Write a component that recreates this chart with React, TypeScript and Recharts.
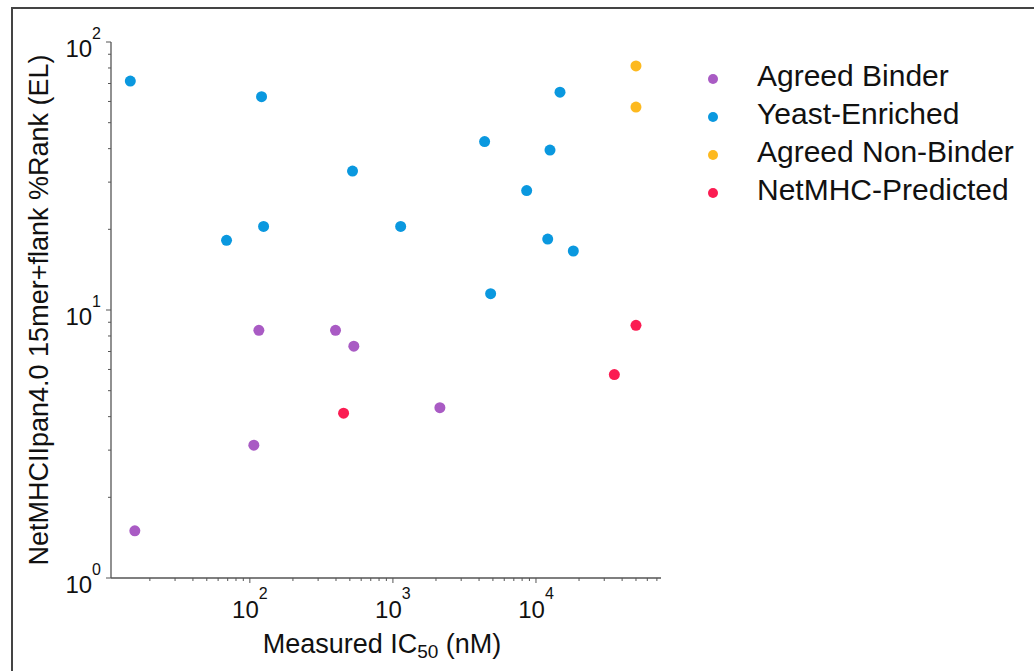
import { ScatterChart, Scatter, XAxis, YAxis } from "recharts";

// values (IC50 in nM, %Rank)
const agreedBinder = [
  { ic50: 115.6, rank: 8.4 },
  { ic50: 397, rank: 8.4 },
  { ic50: 533, rank: 7.33 },
  { ic50: 106.6, rank: 3.13 },
  { ic50: 15.7, rank: 1.5 },
  { ic50: 2130, rank: 4.32 },
];
const yeastEnriched = [
  { ic50: 14.6, rank: 71.5 },
  { ic50: 120.7, rank: 62.5 },
  { ic50: 522, rank: 33.0 },
  { ic50: 68.7, rank: 18.2 },
  { ic50: 124.7, rank: 20.5 },
  { ic50: 1133, rank: 20.5 },
  { ic50: 14720, rank: 65.0 },
  { ic50: 4375, rank: 42.5 },
  { ic50: 12530, rank: 39.5 },
  { ic50: 8610, rank: 27.9 },
  { ic50: 12080, rank: 18.4 },
  { ic50: 18240, rank: 16.6 },
  { ic50: 4820, rank: 11.5 },
];
const agreedNonBinder = [
  { ic50: 50000, rank: 81.4 },
  { ic50: 50000, rank: 57.2 },
];
const netmhcPredicted = [
  { ic50: 452, rank: 4.12 },
  { ic50: 35300, rank: 5.74 },
  { ic50: 50000, rank: 8.77 },
];

const SERIES = [
  { name: "Agreed Binder", color: "#a95bc4", data: agreedBinder },
  { name: "Yeast-Enriched", color: "#0a98df", data: yeastEnriched },
  { name: "Agreed Non-Binder", color: "#fdb91f", data: agreedNonBinder },
  { name: "NetMHC-Predicted", color: "#fb1c52", data: netmhcPredicted },
];

const X_DOMAIN = [10.7, 74800];
const Y_DOMAIN = [1, 100];
const X_MAJOR = [100, 1000, 10000];
const Y_MAJOR = [1, 10, 100];
const MINOR_STEPS = [2, 3, 4, 5, 6, 7, 8, 9];
const X_DECADES = [10, 100, 1000, 10000];
const Y_DECADES = [1, 10];

const withMinors = (decades: number[], majors: number[], dom: number[]) => {
  const out = [...majors];
  decades.forEach((d) => MINOR_STEPS.forEach((m) => out.push(d * m)));
  return out.filter((v) => v >= dom[0] && v <= dom[1]).sort((a, b) => a - b);
};
const X_TICKS = withMinors(X_DECADES, X_MAJOR, X_DOMAIN);
const Y_TICKS = withMinors(Y_DECADES, Y_MAJOR, Y_DOMAIN);

const AXIS = "#555";
const FONT = "'Liberation Sans', Arial, sans-serif";

const exp10 = (v: number) => Math.round(Math.log10(v));

const XTick = (props: any) => {
  const { x, y, payload } = props;
  const major = X_MAJOR.includes(payload.value);
  return (
    <g>
      <line x1={x} x2={x} y1={y} y2={y + (major ? 5 : 3)} stroke={AXIS} strokeWidth={1} />
      {major && (
        <text x={x} y={y + 40} textAnchor="middle" fontSize={24} fill="#111" fontFamily={FONT}>
          <tspan>10</tspan>
          <tspan dy={-19} fontSize={16}>{exp10(payload.value)}</tspan>
        </text>
      )}
    </g>
  );
};

const YTick = (props: any) => {
  const { x, y, payload } = props;
  const major = Y_MAJOR.includes(payload.value);
  return (
    <g>
      <line x1={x} x2={x - (major ? 5 : 3)} y1={y} y2={y} stroke={AXIS} strokeWidth={1} />
      {major && (
        <text x={x - 10} y={y + 15} textAnchor="end" fontSize={24} fill="#111" fontFamily={FONT}>
          <tspan>10</tspan>
          <tspan dy={-18} fontSize={16}>{exp10(payload.value)}</tspan>
        </text>
      )}
    </g>
  );
};

const XLabel = (props: any) => {
  const { x, width, y } = props.viewBox;
  return (
    <text x={x + width / 2 - 4} y={y + 75} textAnchor="middle" fontSize={27} fill="#111" fontFamily={FONT}>
      <tspan>Measured IC</tspan>
      <tspan fontSize={19} dy={5}>50</tspan>
      <tspan dy={-5}> (nM)</tspan>
    </text>
  );
};

const YLabel = (props: any) => {
  const { y, height } = props.viewBox;
  const cx = 48;
  const cy = y + height / 2;
  return (
    <text
      x={cx}
      y={cy}
      transform={`rotate(-90, ${cx}, ${cy})`}
      textAnchor="middle"
      fontSize={27}
      fill="#111"
      fontFamily={FONT}
    >
      NetMHCIIpan4.0 15mer+flank %Rank (EL)
    </text>
  );
};

export default function App() {
  return (
    <div
      style={{
        position: "absolute",
        left: 0,
        top: 0,
        width: 1034,
        height: 671,
        background: "#fff",
        fontFamily: FONT,
        overflow: "hidden",
      }}
    >
      <div
        style={{
          position: "absolute",
          left: 11,
          top: 7,
          width: 1030,
          height: 670,
          borderTop: "2px solid #444",
          borderLeft: "2px solid #444",
        }}
      />
      <ScatterChart
        width={1034}
        height={671}
        margin={{ top: 42, right: 373, bottom: 0, left: 0 }}
        style={{ position: "absolute", left: 0, top: 0 }}
      >
        <XAxis
          dataKey="ic50"
          type="number"
          scale="log"
          domain={X_DOMAIN}
          allowDataOverflow
          ticks={X_TICKS}
          interval={0}
          tickSize={0}
          tickMargin={0}
          tickLine={false}
          tick={<XTick />}
          axisLine={{ stroke: AXIS, strokeWidth: 1.3 }}
          height={93}
          label={<XLabel />}
        />
        <YAxis
          dataKey="rank"
          type="number"
          scale="log"
          domain={Y_DOMAIN}
          allowDataOverflow
          ticks={Y_TICKS}
          interval={0}
          tickSize={0}
          tickMargin={0}
          tickLine={false}
          tick={<YTick />}
          axisLine={{ stroke: AXIS, strokeWidth: 1.3 }}
          width={111}
          label={<YLabel />}
        />
        <XAxis
          xAxisId="top"
          orientation="top"
          type="number"
          domain={[0, 1]}
          height={0}
          tick={false}
          tickLine={false}
          axisLine={{ stroke: AXIS, strokeWidth: 1.3 }}
        />
        <YAxis
          yAxisId="right"
          orientation="right"
          type="number"
          domain={[0, 1]}
          width={0}
          tick={false}
          tickLine={false}
          axisLine={{ stroke: AXIS, strokeWidth: 1.3 }}
        />
        {SERIES.map((s) => (
          <Scatter
            key={s.name}
            name={s.name}
            data={s.data}
            fill={s.color}
            isAnimationActive={false}
            shape={(p: any) => <circle cx={p.cx} cy={p.cy} r={5.5} fill={s.color} />}
          />
        ))}
      </ScatterChart>
      <div style={{ position: "absolute", left: 700, top: 60 }}>
        {SERIES.map((s) => (
          <div key={s.name} style={{ height: 38, display: "flex", alignItems: "center" }}>
            <span
              style={{
                width: 10,
                height: 10,
                borderRadius: "50%",
                background: s.color,
                marginLeft: 8,
                marginRight: 39,
              }}
            />
            <span style={{ fontSize: 30, color: "#111", position: "relative", top: -3, whiteSpace: "nowrap" }}>
              {s.name}
            </span>
          </div>
        ))}
      </div>
    </div>
  );
}
